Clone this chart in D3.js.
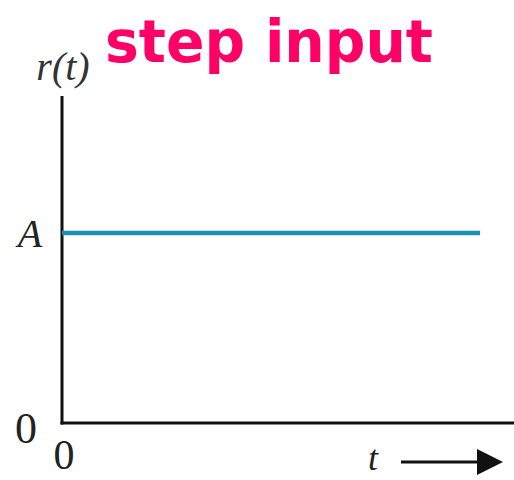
<!DOCTYPE html>
<html>
<head>
<meta charset="utf-8">
<script src="https://cdn.jsdelivr.net/npm/d3@7"></script>
<style>
  body { margin: 0; background: #fff; }
</style>
</head>
<body>
<script>
var w = 514,
    h = 480;

// step signal r(t) = A for t >= 0
var stepT = [0, 9.25];
var stepR = [1, 1];
var yTicks = [{ v: 0, label: '0' }, { v: 1, label: 'A' }];
var xTicks = [{ v: 0, label: '0' }];
var title = 'step input';

var svg = d3.select('body')
            .append('svg')
            .attr('width', w)
            .attr('height', h);

var x = d3.scaleLinear()
          .domain([0, 10])
          .range([62, 514]);

var y = d3.scaleLinear()
          .domain([0, 1])
          .range([423, 233]);

var serif = '"Liberation Serif", "DejaVu Serif", serif';

// axes
svg.append('line')
   .attr('x1', x(0)).attr('y1', y(0) + 1.5)
   .attr('x2', x(0)).attr('y2', 96)
   .style('stroke', '#111')
   .style('stroke-width', 3);

svg.append('line')
   .attr('x1', x(0) - 1.5).attr('y1', y(0))
   .attr('x2', w).attr('y2', y(0))
   .style('stroke', '#111')
   .style('stroke-width', 3);

// the step
var line = d3.line()
             .x(function(d) { return x(d[0]); })
             .y(function(d) { return y(d[1]); });

svg.append('path')
   .datum(d3.zip(stepT, stepR))
   .attr('d', line)
   .style('fill', 'none')
   .style('stroke', '#1a8fb8')
   .style('stroke-width', 4.5);

// y labels
svg.selectAll('text.ylab')
   .data(yTicks)
   .enter()
   .append('text')
   .attr('class', 'ylab')
   .attr('x', function(d) { return d.v === 0 ? 26 : 30; })
   .attr('y', function(d) { return d.v === 0 ? y(d.v) + 20 : y(d.v) + 14; })
   .attr('text-anchor', 'middle')
   .style('font-family', serif)
   .style('font-style', function(d) { return d.v === 0 ? 'normal' : 'italic'; })
   .style('font-size', function(d) { return d.v === 0 ? '44px' : '40px'; })
   .style('fill', '#222')
   .text(function(d) { return d.label; });

// x labels
svg.selectAll('text.xlab')
   .data(xTicks)
   .enter()
   .append('text')
   .attr('class', 'xlab')
   .attr('x', function(d) { return x(d.v) + 2; })
   .attr('y', 469)
   .attr('text-anchor', 'middle')
   .style('font-family', serif)
   .style('font-size', '42px')
   .style('fill', '#222')
   .text(function(d) { return d.label; });

// axis names
svg.append('text')
   .attr('x', 63)
   .attr('y', 80)
   .attr('text-anchor', 'middle')
   .style('font-family', serif)
   .style('font-style', 'italic')
   .style('font-size', '40px')
   .style('fill', '#333')
   .text('r(t)');

svg.append('text')
   .attr('x', 373)
   .attr('y', 470)
   .attr('text-anchor', 'middle')
   .style('font-family', serif)
   .style('font-style', 'italic')
   .style('font-size', '36px')
   .style('fill', '#222')
   .text('t');

// arrow after t
svg.append('line')
   .attr('x1', 401).attr('y1', 462)
   .attr('x2', 482).attr('y2', 462)
   .style('stroke', '#111')
   .style('stroke-width', 3);

svg.append('path')
   .attr('d', 'M477,449 L503,462 L477,475 Z')
   .style('fill', '#111');

// title
svg.append('text')
   .attr('x', 105)
   .attr('y', 62)
   .attr('textLength', 328)
   .attr('lengthAdjust', 'spacingAndGlyphs')
   .style('font-family', '"DejaVu Sans", sans-serif')
   .style('font-weight', 'bold')
   .style('font-size', '58px')
   .style('fill', '#ff0066')
   .text(title);
</script>
</body>
</html>
